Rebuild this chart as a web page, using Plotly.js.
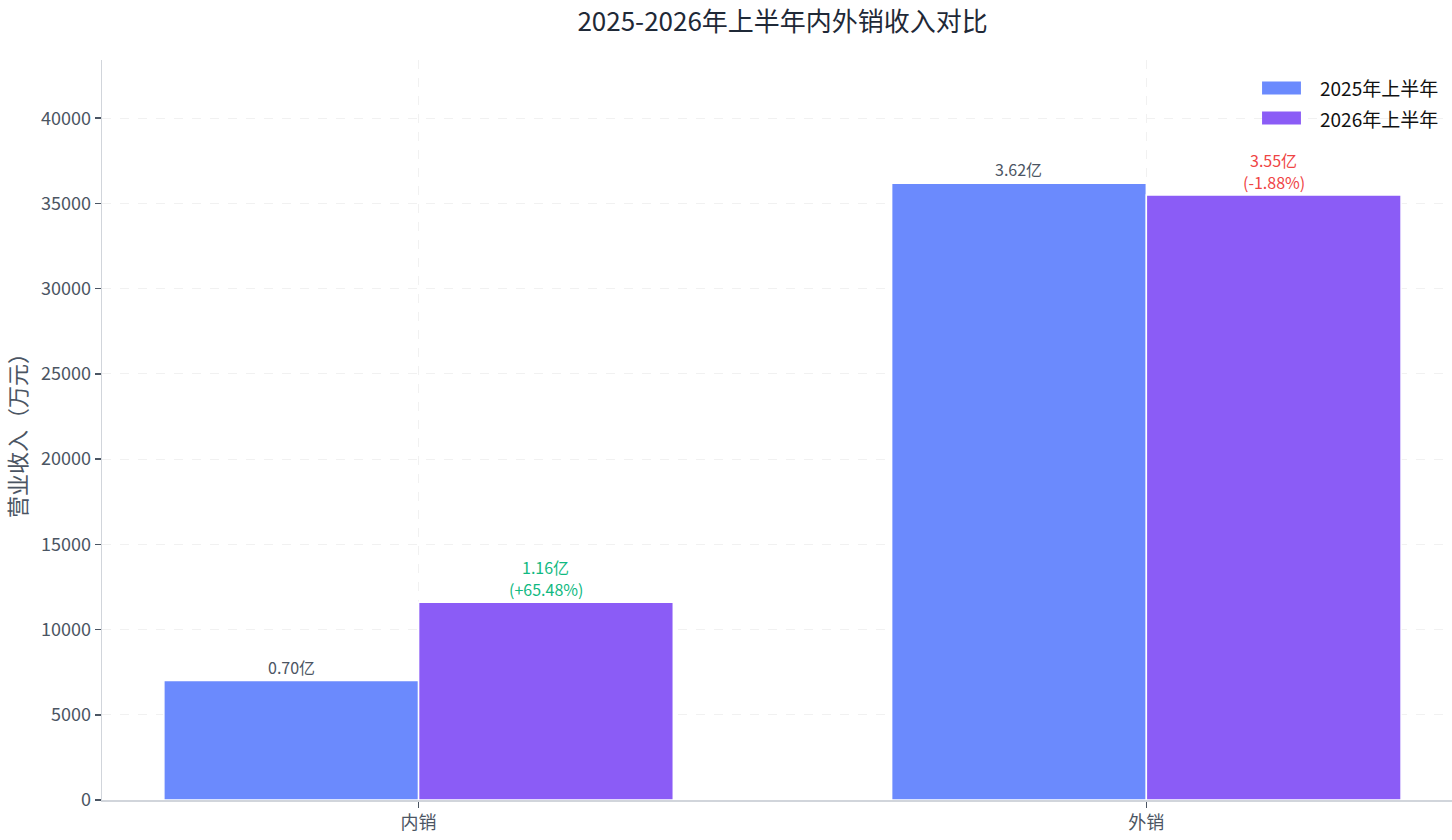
<!DOCTYPE html>
<html>
<head>
<meta charset="utf-8">
<script src="https://cdn.plot.ly/plotly-3.0.1.min.js"></script>
<style>
  html, body { margin: 0; padding: 0; background: #fff; }
  #chart { width: 1452px; height: 840px; }
</style>
</head>
<body>
<div id="chart"></div>
<script>
// data (万元)
const categories = ["内销", "外销"];
const seriesNames = ["2025年上半年", "2026年上半年"];
const values2025 = [7010, 36180];
const values2026 = [11600, 35500];
const yTicks = [0, 5000, 10000, 15000, 20000, 25000, 30000, 35000, 40000];

const FONT = '"Noto Sans CJK SC", "Noto Sans", sans-serif';
const COLORS = ["#6b8afd", "#8b5cf6"];
const BARGAP = 0.3;
const half = (1 - BARGAP) / 4; // center offset of each bar inside its group

// label helpers: 万元 -> 亿, and yoy change
const toYi = v => (v / 10000).toFixed(2) + "亿";
const changes = values2026.map((v, i) => (v / values2025[i] - 1) * 100);

const traces = [values2025, values2026].map((vals, k) => ({
  type: "bar",
  name: seriesNames[k],
  x: categories,
  y: vals,
  marker: { color: COLORS[k], line: { color: "#ffffff", width: 1.5 } },
  hoverinfo: "skip",
  showlegend: false
}));

// value labels above bars
const annotations = [];
categories.forEach((c, i) => {
  annotations.push({
    x: i - half, y: values2025[i], xref: "x", yref: "y",
    text: toYi(values2025[i]), showarrow: false,
    yanchor: "middle", yshift: 14,
    font: { family: FONT, size: 16, color: "#4b5563" }
  });
  const col = changes[i] >= 0 ? "#10b981" : "#ef4444";
  annotations.push({
    x: i + half, y: values2026[i], xref: "x", yref: "y",
    text: toYi(values2026[i]), showarrow: false,
    yanchor: "middle", yshift: 35,
    font: { family: FONT, size: 16, color: col }
  });
  annotations.push({
    x: i + half, y: values2026[i], xref: "x", yref: "y",
    text: `(${changes[i] >= 0 ? "+" : ""}${changes[i].toFixed(2)}%)`, showarrow: false,
    yanchor: "middle", yshift: 13,
    font: { family: FONT, size: 16, color: col }
  });
});

// legend drawn with wide swatches like the original
const shapes = [];
const legendY = [0.9622, 0.9216];
seriesNames.forEach((name, k) => {
  shapes.push({
    type: "rect", xref: "paper", yref: "paper",
    x0: 0.8593, x1: 0.8881, y0: legendY[k] - 0.0088, y1: legendY[k] + 0.0088,
    fillcolor: COLORS[k], line: { width: 0 }
  });
  annotations.push({
    xref: "paper", yref: "paper", x: 0.9007, y: legendY[k],
    xanchor: "left", yanchor: "middle", showarrow: false,
    text: name, font: { family: FONT, size: 19, color: "#111111" }
  });
});

const layout = {
  width: 1452,
  height: 840,
  margin: { l: 102, r: 0, t: 60, b: 40 },
  paper_bgcolor: "#ffffff",
  plot_bgcolor: "#ffffff",
  font: { family: FONT, color: "#4b5563" },
  barmode: "group",
  bargap: BARGAP,
  bargroupgap: 0,
  showlegend: false,
  title: {
    text: "2025-2026年上半年内外销收入对比",
    font: { family: FONT, size: 26, color: "#1f2937" },
    xref: "container",
    x: 0.539,
    xanchor: "center",
    yref: "container",
    y: 0.9738,
    yanchor: "middle"
  },
  xaxis: {
    type: "category",
    range: [-0.435, 1.42],
    showline: true,
    linecolor: "#d1d5db",
    linewidth: 1.5,
    ticks: "outside",
    ticklen: 6,
    tickwidth: 1.5,
    tickcolor: "#4b5563",
    tickfont: { family: FONT, size: 18, color: "#4b5563" },
    showgrid: true,
    gridcolor: "#f1f1f1",
    griddash: "dash",
    gridwidth: 1,
    zeroline: false
  },
  yaxis: {
    range: [0, Math.max(...values2025, ...values2026) * 1.2],
    tickvals: yTicks,
    tickformat: "d",
    showline: true,
    linecolor: "#d1d5db",
    linewidth: 1.5,
    ticks: "outside",
    ticklen: 6,
    tickwidth: 1.5,
    tickcolor: "#4b5563",
    tickfont: { family: FONT, size: 18, color: "#4b5563" },
    showgrid: true,
    gridcolor: "#f1f1f1",
    griddash: "dash",
    gridwidth: 1,
    zeroline: false,
    title: {
      text: "营业收入（万元）",
      font: { family: FONT, size: 22, color: "#4b5563" },
      standoff: 8
    }
  },
  annotations: annotations,
  shapes: shapes
};

Plotly.newPlot("chart", traces, layout, { displayModeBar: false, staticPlot: true });
</script>
</body>
</html>
